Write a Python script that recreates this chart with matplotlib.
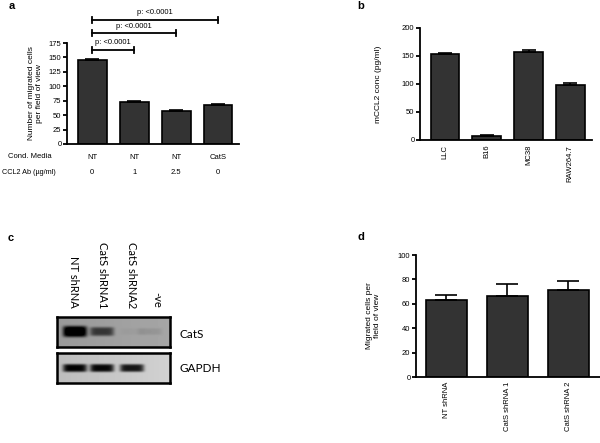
import matplotlib
matplotlib.use('Agg')
import matplotlib.pyplot as plt
import numpy as np

plt.rcParams['font.family'] = ['Liberation Sans', 'DejaVu Sans']

W, H = 600, 443
BAR = '#333333'

# panel a
a_values = [145, 72, 57, 67]
a_err = [3, 2, 2, 2]
a_media = ['NT', 'NT', 'NT', 'CatS']
a_ab = ['0', '1', '2.5', '0']
a_pairs = [(0, 1), (0, 2), (0, 3)]
a_pair_y = [163, 192, 215]
a_p = ['p: <0.0001', 'p: <0.0001', 'p: <0.0001']

# panel b
b_labels = ['LLC', 'B16', 'MC38', 'RAW264.7']
b_values = [154, 8, 158, 98]
b_err = [1, 1, 2, 4]

# panel c
c_lanes = ['NT shRNA', 'CatS shRNA1', 'CatS shRNA2', '-ve']
c_cats = [1.0, 0.55, 0.03, 0.08]
c_gapdh = [1.0, 1.0, 0.95, 0.0]

# panel d
d_labels = ['NT shRNA', 'CatS shRNA 1', 'CatS shRNA 2']
d_values = [63, 66, 71]
d_err = [4, 10, 8]


def px(l, t, r, b):
    return [l / W, 1 - b / H, (r - l) / W, (b - t) / H]


def style(ax):
    for s in ['top', 'right']:
        ax.spines[s].set_visible(False)
    for s in ['left', 'bottom']:
        ax.spines[s].set_linewidth(1.3)
    ax.tick_params(axis='y', length=3, width=1.3, labelsize=5.5, pad=1)
    ax.tick_params(axis='x', length=0, labelsize=5.5)


def bars(ax, vals, err, cap=5, width=0.69):
    x = np.arange(len(vals))
    ax.bar(x, vals, width=width, color=BAR, edgecolor='black', linewidth=1.2)
    ax.errorbar(x, vals, yerr=[np.zeros(len(err)), err], fmt='none',
                ecolor='black', elinewidth=1.2, capsize=cap, capthick=1.2)


fig = plt.figure(figsize=(6, 4.43), dpi=100)

# ---- a
ax = fig.add_axes(px(67, 43, 239, 144))
bars(ax, a_values, a_err)
style(ax)
ax.set_xlim(-0.6, 3.5)
ax.set_ylim(0, 175)
ax.set_yticks(range(0, 176, 25))
ax.set_xticks([])
ax.set_ylabel('Number of migrated cells\nper field of view', fontsize=6, labelpad=4)
for (i, j), y, t in zip(a_pairs, a_pair_y, a_p):
    ax.plot([i, j], [y, y], color='black', lw=1.3, clip_on=False)
    ax.plot([i, i], [y - 5, y + 5], color='black', lw=1.3, clip_on=False)
    ax.plot([j, j], [y - 5, y + 5], color='black', lw=1.3, clip_on=False)
    ax.text((i + j) / 2, y + 6, t, ha='center', va='bottom', fontsize=5.5, clip_on=False)
tr = ax.get_xaxis_transform()
for k in range(4):
    ax.text(k, -0.13, a_media[k], transform=tr, ha='center', va='center', fontsize=5.5)
    ax.text(k, -0.28, a_ab[k], transform=tr, ha='center', va='center', fontsize=5.5)
fig.text(30 / W, 1 - 157 / H, 'Cond. Media', ha='center', va='center', fontsize=5.5)
fig.text(2 / W, 1 - 172 / H, 'CCL2 Ab (\u00b5g/ml)', ha='left', va='center', fontsize=5.2)
fig.text(9 / W, 1 - 6 / H, 'a', fontsize=8, fontweight='bold', va='center')

# ---- b
ax = fig.add_axes(px(420, 28, 592, 140))
bars(ax, b_values, b_err)
style(ax)
ax.set_xlim(-0.6, 3.52)
ax.set_ylim(0, 200)
ax.set_yticks(range(0, 201, 50))
ax.set_xticks(range(4))
ax.set_xticklabels(b_labels, rotation=90)
ax.set_ylabel('mCCL2 conc (pg/ml)', fontsize=6, labelpad=14)
fig.text(357 / W, 1 - 6 / H, 'b', fontsize=8, fontweight='bold', va='center')

# ---- c  (gel)
lane_x = [75, 102, 132, 150]


def gel(top, bot, intens, hh, cy, bg, grad):
    g = fig.add_axes(px(57, top, 170, bot))
    xs = np.arange(57, 170) + 0.5
    ys = np.arange(top, bot) + 0.5
    X, Y = np.meshgrid(xs, ys)
    img = np.zeros_like(X)
    for lx, v in zip(lane_x, intens):
        h = hh * (0.6 + 0.4 * v)
        img += v * np.exp(-((X - lx) / 12) ** 6) * np.exp(-((Y - cy) / h) ** 4)
    base = bg + grad * (X - 57) / 113
    shade = np.clip(base - 0.75 * img, 0, 1)
    g.imshow(shade, cmap='gray', vmin=0, vmax=1, aspect='auto', interpolation='bilinear')
    g.set_xticks([])
    g.set_yticks([])
    for s in g.spines.values():
        s.set_linewidth(1.8)
    return g


gel(317, 347, c_cats, 5.5, 331.5, 0.60, 0.05)
gel(353, 383, c_gapdh, 4.0, 368, 0.74, 0.08)
for lx, lab in zip([73, 102, 132, 157], c_lanes):
    fig.text(lx / W, 1 - 308 / H, lab, rotation=-90, ha='center', va='bottom',
             fontsize=8, family=['Lato', 'DejaVu Sans'])
fig.text(180 / W, 1 - 335 / H, 'CatS', va='center', fontsize=8.5, family=['Lato', 'DejaVu Sans'])
fig.text(179 / W, 1 - 369 / H, 'GAPDH', va='center', fontsize=8.5, family=['Lato', 'DejaVu Sans'])
fig.text(8 / W, 1 - 238 / H, 'c', fontsize=8, fontweight='bold', va='center')

# ---- d
ax = fig.add_axes(px(416, 255, 600, 377))
bars(ax, d_values, d_err, cap=8, width=0.67)
style(ax)
ax.set_xlim(-0.5, 2.52)
ax.set_ylim(0, 100)
ax.set_yticks(range(0, 101, 20))
ax.set_xticks(range(3))
ax.set_xticklabels(d_labels, rotation=90)
ax.set_ylabel('Migrated cells per\nfield of view', fontsize=6, labelpad=12)
fig.text(357 / W, 1 - 237 / H, 'd', fontsize=8, fontweight='bold', va='center')

fig.savefig('out.png', dpi=100)
